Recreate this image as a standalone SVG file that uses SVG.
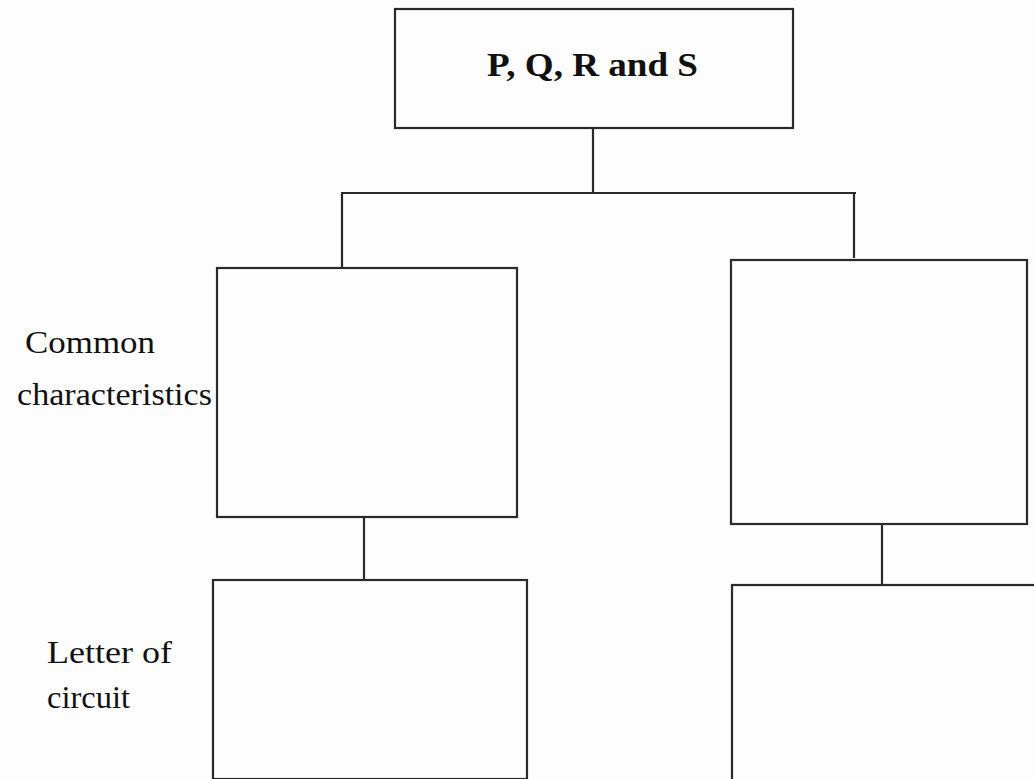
<svg xmlns="http://www.w3.org/2000/svg" width="1034" height="779" viewBox="0 0 1034 779">
<style>
.box{fill:none;stroke:#2a2a2a;stroke-width:2.2}
.conn{stroke:#2a2a2a;stroke-width:2.2;fill:none}
.lbl{font-family:"Liberation Serif","Times New Roman",serif;font-size:31px;fill:#111}
.title{font-family:"Liberation Serif","Times New Roman",serif;font-size:34px;font-weight:bold;fill:#111}
</style>
<rect width="1034" height="779" fill="#fdfdfd"/>
<g id="connectors">
<line class="conn" x1="593" y1="128" x2="593" y2="193"/>
<line class="conn" x1="341" y1="193" x2="856" y2="193"/>
<line class="conn" x1="342" y1="193" x2="342" y2="268"/>
<line class="conn" x1="854" y1="193" x2="854" y2="258"/>
<line class="conn" x1="364" y1="517" x2="364" y2="580"/>
<line class="conn" x1="882" y1="524" x2="882" y2="585"/>
</g>
<g id="node-top">
<rect class="box" x="395" y="9" width="398" height="119"/>
<text class="title" x="487" y="76" textLength="211" lengthAdjust="spacingAndGlyphs">P, Q, R and S</text>
</g>
<g id="node-left1">
<rect class="box" x="217" y="268" width="300" height="249"/>
</g>
<g id="node-right1">
<rect class="box" x="731" y="260" width="296" height="264"/>
</g>
<g id="node-left2">
<rect class="box" x="213" y="580" width="314" height="199"/>
</g>
<g id="node-right2">
<rect class="box" x="732" y="585" width="310" height="199"/>
</g>
<g id="labels">
<text class="lbl" x="25" y="353" textLength="130" lengthAdjust="spacingAndGlyphs">Common</text>
<text class="lbl" x="17" y="405" textLength="195" lengthAdjust="spacingAndGlyphs">characteristics</text>
<text class="lbl" x="47" y="663" textLength="125" lengthAdjust="spacingAndGlyphs">Letter of</text>
<text class="lbl" x="47" y="708" textLength="83" lengthAdjust="spacingAndGlyphs">circuit</text>
</g>
</svg>
